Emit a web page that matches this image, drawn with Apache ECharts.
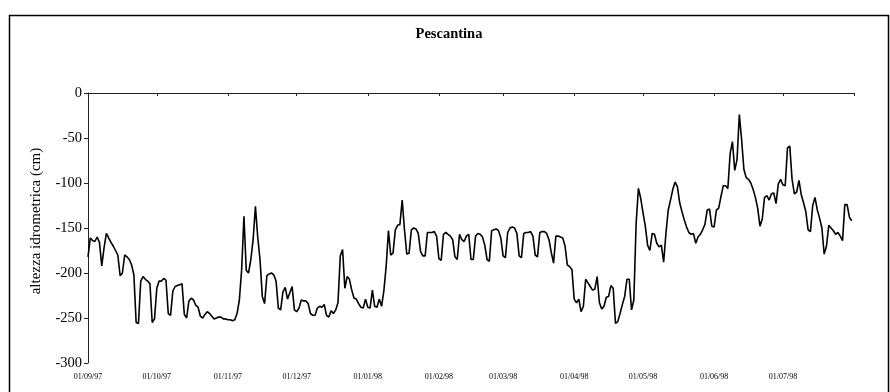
<!DOCTYPE html>
<html>
<head>
<meta charset="utf-8">
<script src="https://cdn.jsdelivr.net/npm/echarts@6/dist/echarts.min.js"></script>
<style>
html,body{margin:0;padding:0;background:#fff;}
#chart{width:890px;height:392px;}
</style>
</head>
<body>
<div id="chart"></div>
<script>
// Daily water level (cm), 01/09/97 - 31/07/98
const sep97 = [-182,-161,-164,-165,-160,-166,-192,-172,-156,-161,-166,-170,-175,-180,-203,-200,-180,-182,-185,-191,-202,-255,-256,-209,-204,-207,-209,-212,-255,-251];
const oct97 = [-217,-209,-209,-206,-208,-245,-247,-220,-215,-214,-213,-212,-246,-250,-231,-228,-230,-236,-238,-248,-250,-246,-243,-245,-248,-251,-250,-249,-249,-251,-251];
const nov97 = [-252,-252,-253,-252,-245,-230,-196,-137,-197,-200,-185,-163,-126,-160,-185,-226,-234,-203,-201,-200,-202,-209,-239,-241,-221,-216,-229,-222,-215,-241];
const dec97 = [-243,-239,-230,-231,-231,-234,-245,-247,-247,-239,-237,-238,-235,-247,-249,-242,-245,-241,-233,-181,-174,-217,-204,-207,-219,-228,-229,-234,-238,-239,-229];
const jan98 = [-238,-239,-219,-237,-238,-229,-237,-220,-193,-153,-180,-178,-152,-147,-146,-119,-152,-179,-178,-152,-150,-151,-156,-176,-181,-181,-155,-155,-155,-154,-159];
const feb98 = [-184,-186,-157,-155,-157,-159,-163,-182,-185,-157,-163,-165,-159,-157,-185,-185,-159,-156,-157,-160,-169,-185,-187,-153,-152,-151,-153,-161];
const mar98 = [-181,-183,-155,-150,-149,-150,-156,-181,-183,-156,-155,-155,-154,-159,-180,-182,-155,-154,-154,-156,-163,-177,-189,-159,-159,-160,-161,-170,-191,-193,-196];
const apr98 = [-229,-233,-229,-243,-237,-207,-211,-215,-219,-218,-204,-233,-240,-237,-227,-226,-214,-217,-256,-254,-245,-235,-226,-207,-207,-241,-230,-145,-106,-117];
const may98 = [-133,-148,-169,-175,-156,-157,-167,-171,-169,-188,-156,-130,-119,-107,-99,-104,-122,-132,-141,-149,-155,-157,-156,-167,-160,-157,-152,-146,-130,-129,-148];
const jun98 = [-149,-130,-128,-115,-103,-103,-106,-67,-54,-86,-74,-24,-52,-85,-94,-96,-100,-107,-116,-128,-148,-140,-116,-114,-119,-112,-111,-123,-101,-96];
const jul98 = [-102,-103,-61,-59,-96,-112,-110,-97,-113,-122,-132,-152,-154,-125,-116,-130,-139,-150,-179,-170,-147,-150,-153,-157,-155,-159,-164,-124,-124,-138,-142];

const values = [].concat(sep97, oct97, nov97, dec97, jan98, feb98, mar98, apr98, may98, jun98, jul98);

// Y axis tick labels
const yTicks = [-300, -250, -200, -150, -100, -50, 0];

// Categories: every day from 01/09/97 to 01/08/98 (axis end)
const startDate = Date.UTC(1997, 8, 1);
const nDays = 335;
const categories = [];
for (let i = 0; i < nDays; i++) {
  const d = new Date(startDate + i * 86400000);
  const dd = String(d.getUTCDate()).padStart(2, '0');
  const mm = String(d.getUTCMonth() + 1).padStart(2, '0');
  const yy = String(d.getUTCFullYear()).slice(2);
  categories.push(dd + '/' + mm + '/' + yy);
}
const lastCat = categories[categories.length - 1];

const serif = "'Liberation Serif', 'Times New Roman', serif";
const chart = echarts.init(document.getElementById('chart'), null, {renderer: 'canvas'});
chart.setOption({
  animation: false,
  backgroundColor: '#fff',
  title: {
    text: 'Pescantina',
    left: 444, top: 22, textAlign: 'center',
    textStyle: {fontFamily: serif, fontSize: 14.5, fontWeight: 'bold', color: '#000'}
  },
  graphic: [{
    type: 'rect', silent: true,
    shape: {x: 9.5, y: 15.5, width: 879, height: 400},
    style: {fill: 'none', stroke: '#000', lineWidth: 1.5}
  }],
  grid: {left: 88, right: 36, top: 93, bottom: 29, containLabel: false},
  xAxis: {
    type: 'category',
    data: categories,
    boundaryGap: false,
    axisLine: {lineStyle: {color: '#222', width: 1}},
    axisTick: {
      show: true, length: 3, inside: false,
      interval: (idx, val) => val.slice(0, 2) === '01',
      lineStyle: {color: '#222'}
    },
    axisLabel: {
      interval: (idx, val) => val.slice(0, 2) === '01' && val !== lastCat,
      fontFamily: serif, fontSize: 8, color: '#000', margin: 10
    },
    splitLine: {show: false}
  },
  yAxis: {
    type: 'value',
    min: yTicks[0], max: yTicks[yTicks.length - 1], interval: 50,
    name: 'altezza idrometrica (cm)',
    nameLocation: 'middle', nameGap: 44, nameRotate: 90,
    nameTextStyle: {fontFamily: serif, fontSize: 15, color: '#000', padding: [0, 0, 0, 14]},
    axisLine: {show: true, lineStyle: {color: '#222', width: 1}},
    axisTick: {show: true, length: 4, inside: false, lineStyle: {color: '#222'}},
    axisLabel: {fontFamily: serif, fontSize: 14.5, color: '#000', margin: 6},
    splitLine: {show: false}
  },
  series: [{
    type: 'line',
    data: values,
    showSymbol: false,
    symbol: 'none',
    lineStyle: {color: '#000', width: 1.6},
    smooth: false
  }]
});
</script>
</body>
</html>
